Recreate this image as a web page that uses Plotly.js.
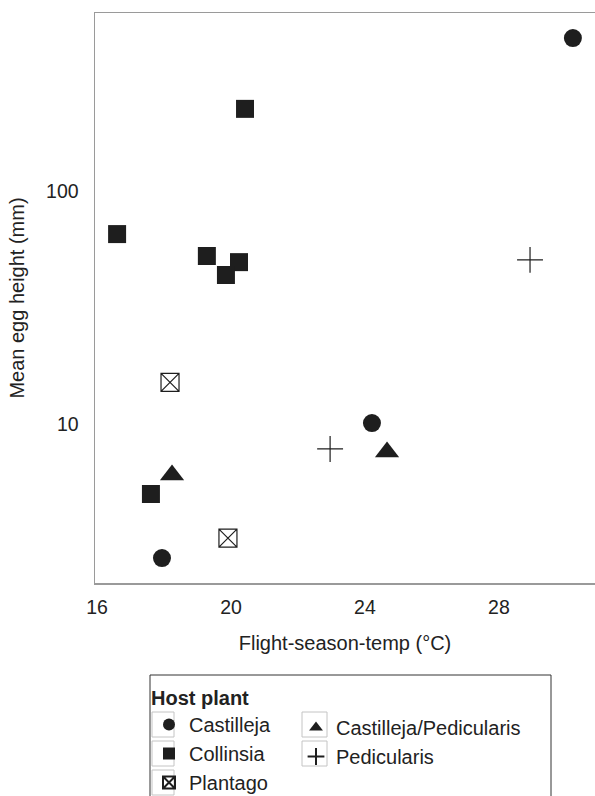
<!DOCTYPE html>
<html>
<head>
<meta charset="utf-8">
<script src="https://cdn.plot.ly/plotly-3.0.1.min.js"></script>
<style>html,body{margin:0;padding:0;background:#fff}#chart{width:595px;height:796px}</style>
</head>
<body>
<div id="chart"></div>
<script>
// Data
const castillejaX = [30.21, 24.21, 17.94];
const castillejaY = [453, 10.1, 2.66];
const castPedX = [18.24, 24.66];
const castPedY = [6.04, 7.59];
const collinsiaX = [20.42, 16.60, 19.28, 20.24, 19.85, 17.61];
const collinsiaY = [225, 65.3, 52.6, 49.5, 43.6, 5.01];
const pedicularisX = [28.93, 22.96];
const pedicularisY = [50.6, 7.82];
const plantagoX = [18.18, 19.91];
const plantagoY = [15.1, 3.24];
const xTicks = [16, 20, 24, 28];
const yTicks = [10, 100];
const yTickText = ['10', '100'];

const ink = '#1e1e1e';
const traces = [
  {name: 'Castilleja', x: castillejaX, y: castillejaY, symbol: 'circle', size: 18, legend: 'legend'},
  {name: 'Collinsia', x: collinsiaX, y: collinsiaY, symbol: 'square', size: 18, legend: 'legend'},
  {name: 'Plantago', x: plantagoX, y: plantagoY, symbol: 'square-x-open', size: 18, legend: 'legend'},
  {name: 'Castilleja/Pedicularis', x: castPedX, y: castPedY, symbol: 'triangle-up', size: 21, legend: 'legend2'},
  {name: 'Pedicularis', x: pedicularisX, y: pedicularisY, symbol: 'cross-thin-open', size: 18.5, legend: 'legend2'}
].map(t => ({
  type: 'scatter', mode: 'markers', name: t.name, x: t.x, y: t.y, legend: t.legend,
  marker: {symbol: t.symbol, size: t.size, color: ink,
           line: {color: t.symbol.startsWith('cross') ? '#444' : ink, width: t.symbol.endsWith('open') ? 1.2 : 0}}
}));

// plot area in pixels (used only to place the legend frame and key boxes)
const PL = 95, PR = 595, PT = 13, PB = 583;
const px2x = p => (p - PL) / (PR - PL);
const px2y = p => (PB - p) / (PB - PT);
const keyBoxes = [[152, 174, 712, 737], [152, 174, 741, 766], [152, 174, 770, 795],
                  [302, 327, 712, 737], [302, 327, 741, 766]];
const shapes = keyBoxes.map(b => ({
  type: 'rect', xref: 'paper', yref: 'paper', layer: 'above',
  x0: px2x(b[0]), x1: px2x(b[1]), y0: px2y(b[3]), y1: px2y(b[2]),
  line: {color: '#c4c4c4', width: 1}, fillcolor: 'rgba(0,0,0,0)'
}));
shapes.push({
  type: 'rect', xref: 'paper', yref: 'paper', layer: 'above',
  x0: px2x(150), x1: px2x(551), y0: px2y(805), y1: px2y(675),
  line: {color: '#333', width: 1}, fillcolor: 'rgba(0,0,0,0)'
});

const legendCommon = {
  orientation: 'v', xanchor: 'left', yanchor: 'top', itemwidth: 30,
  borderwidth: 0, bgcolor: 'rgba(0,0,0,0)', font: {size: 20, color: '#222'},
  itemsizing: 'constant', tracegroupgap: 0
};

const layout = {
  width: 595, height: 796,
  margin: {l: 95, r: 0, t: 13, b: 213, autoexpand: false},
  paper_bgcolor: '#fff', plot_bgcolor: '#fff',
  font: {family: 'Liberation Sans, Arial, sans-serif', size: 20, color: '#222'},
  showlegend: true,
  shapes: shapes,
  xaxis: {
    range: [15.94, 30.87], tickvals: xTicks, showgrid: false, zeroline: false,
    showline: true, linecolor: '#9a9a9a', linewidth: 1.5, mirror: true,
    ticks: '', ticklabelstandoff: 6, tickfont: {size: 19.5},
    title: {text: 'Flight-season-temp (°C)', font: {size: 20}, standoff: 19}
  },
  yaxis: {
    type: 'log', range: [Math.log10(2.08), Math.log10(580)],
    tickvals: yTicks, ticktext: yTickText, showgrid: false, zeroline: false,
    showline: true, linecolor: '#9a9a9a', linewidth: 1.5, mirror: false,
    ticks: '', ticklabelstandoff: 11, tickfont: {size: 19.5},
    title: {text: 'Mean egg height (mm)', font: {size: 20}, standoff: 16}
  },
  legend: Object.assign({}, legendCommon, {
    x: px2x(149), y: px2y(679),
    title: {text: '<b>Host plant</b>', side: 'top', font: {size: 20}}
  }),
  legend2: Object.assign({}, legendCommon, {
    x: px2x(296), y: px2y(708)
  })
};

Plotly.newPlot('chart', traces, layout, {displayModeBar: false, staticPlot: true});
</script>
</body>
</html>
